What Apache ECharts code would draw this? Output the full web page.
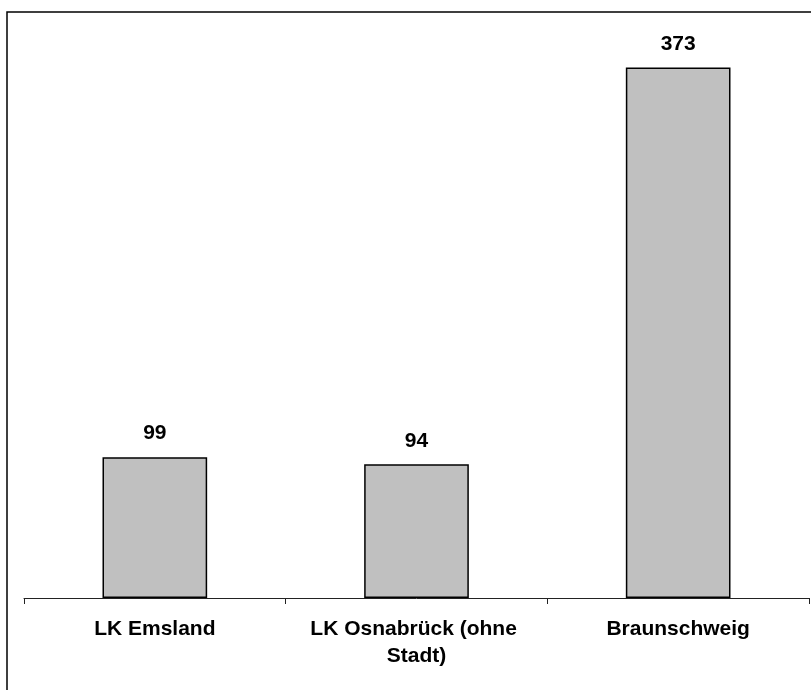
<!DOCTYPE html>
<html>
<head>
<meta charset="utf-8">
<script src="https://cdn.jsdelivr.net/npm/echarts@6/dist/echarts.min.js"></script>
<style>
  html, body { margin: 0; padding: 0; background: #fff; }
  #chart { width: 811px; height: 690px; }
</style>
</head>
<body>
<div id="chart"></div>
<script>
const categories = ["LK Emsland", "LK Osnabrück (ohne Stadt)", "Braunschweig"];
const values = [99, 94, 373];

const chart = echarts.init(document.getElementById("chart"), null, { renderer: "canvas" });

chart.setOption({
  backgroundColor: "#ffffff",
  animation: false,
  graphic: [
    {
      type: "rect",
      shape: { x: 7, y: 12, width: 900, height: 800 },
      style: { fill: "none", stroke: "#000", lineWidth: 1.5 },
      silent: true,
    },
  ],
  grid: { left: 24, right: 2, top: 29, bottom: 92 },
  xAxis: {
    type: "category",
    data: categories,
    axisLine: { lineStyle: { color: "#222", width: 1 } },
    axisTick: { show: true, length: 6, alignWithLabel: false, lineStyle: { color: "#222" } },
    axisLabel: {
      interval: 0,
      hideOverlap: false,
      color: "#000",
      fontFamily: "Liberation Sans, Arial, sans-serif",
      fontWeight: "bold",
      fontSize: 21,
      lineHeight: 27,
      margin: 18,
      width: 230,
      overflow: "break",
    },
  },
  yAxis: {
    type: "value",
    min: 0,
    max: 400,
    show: false,
    splitLine: { show: false },
  },
  series: [
    {
      type: "bar",
      data: values,
      barWidth: "40%",
      itemStyle: { color: "#c0c0c0", borderColor: "#000", borderWidth: 1.5 },
      label: {
        show: true,
        position: "top",
        distance: 13,
        color: "#000",
        fontFamily: "Liberation Sans, Arial, sans-serif",
        fontWeight: "bold",
        fontSize: 21,
      },
    },
  ],
});
</script>
</body>
</html>
